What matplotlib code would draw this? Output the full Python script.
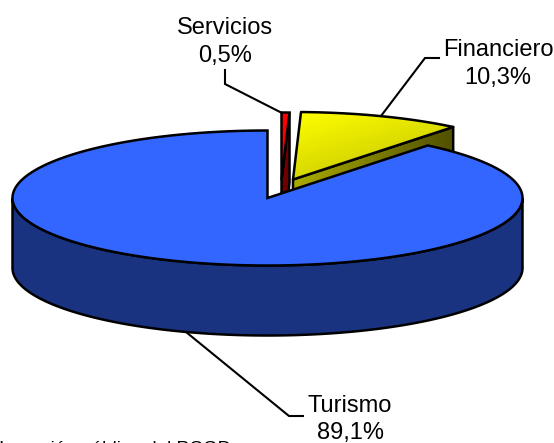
import numpy as np
import matplotlib
matplotlib.use("Agg")
import matplotlib.pyplot as plt
from matplotlib.patches import Polygon

categories = ["Turismo", "Financiero", "Servicios"]
shares = [89.1, 10.3, 0.5]
share_labels = ["89,1%", "10,3%", "0,5%"]
footer = "Inversión pública del PCGD"

W, H = 554, 443
RX, RY, DEPTH = 255, 67.5, 70
START = 90.0
CENTERS = {"Turismo": (267.5, 198), "Financiero": (293, 179.5), "Servicios": (281.5, 180)}
LW = 1.8

plt.rcParams["font.family"] = "Liberation Sans"
fig = plt.figure(figsize=(W/100, H/100), dpi=100)
ax = fig.add_axes([0, 0, 1, 1])
ax.set_xlim(0, W); ax.set_ylim(H, 0); ax.axis("off")

def rim(c, a0, a1, n=200):
    t = np.radians(np.linspace(a0, a1, n))
    return np.c_[c[0] + RX*np.cos(t), c[1] - RY*np.sin(t)]

def gradient(poly, c0, c1, z, vertical=0.5):
    """Fill a polygon with a diagonal linear gradient."""
    yy, xx = np.mgrid[0:1:64j, 0:1:64j]
    f = ((1-vertical)*xx + vertical*yy)[..., None]
    img = (1-f)*np.array(c0)/255 + f*np.array(c1)/255
    x0, y0 = poly.min(axis=0); x1, y1 = poly.max(axis=0)
    im = ax.imshow(img, extent=(x0, x1, y1, y0), zorder=z, aspect="auto", interpolation="bilinear")
    im.set_clip_path(Polygon(poly, closed=True, transform=ax.transData))
    ax.add_patch(Polygon(poly, closed=True, fill=False, ec="black", lw=LW, zorder=z+.1, joinstyle="round"))

total = sum(shares)
angles = {}
a = START
for name, s in zip(categories, shares):
    angles[name] = (a, a + s/total*360)
    a = angles[name][1]

# Servicios (pulled out, drawn behind)
c = CENTERS["Servicios"]
a0, a1 = angles["Servicios"]
r = rim(c, a0 % 360, a1 % 360, 10)
wall = np.array([c, r[0], r[0]+[0, DEPTH], np.array(c)+[0, DEPTH]])
ax.add_patch(Polygon(wall, closed=True, fc="#6E0000", ec="black", lw=LW, zorder=2))
ax.add_patch(Polygon(np.vstack([c, r]), closed=True, fc="#FF0000", ec="black", lw=LW, zorder=2.5))

# Financiero
c = CENTERS["Financiero"]
a0, a1 = angles["Financiero"]
r = rim(c, a0 % 360, a1 % 360, 60)
wall = np.array([c, r[0], r[0]+[0, DEPTH], np.array(c)+[0, DEPTH]])
gradient(wall, (170, 170, 0), (80, 80, 0), 3, vertical=0.0)
gradient(np.vstack([c, r]), (255, 255, 0), (190, 190, 0), 4, vertical=0.6)

# Turismo
c = CENTERS["Turismo"]
a0, a1 = angles["Turismo"]
low = rim(c, 180, 360, 300)
side = np.vstack([low, (low + [0, DEPTH])[::-1]])
ax.add_patch(Polygon(side, closed=True, fc="#1A3380", ec="black", lw=LW, zorder=6))
top = np.vstack([c, rim(c, a0, a1, 500)])
ax.add_patch(Polygon(top, closed=True, fc="#3366FF", ec="black", lw=LW, zorder=7))

# Leaders
leaders = {
    "Servicios": [(225, 70), (225, 84), (282, 113)],
    "Financiero": [(439, 58), (425, 58), (381, 116)],
    "Turismo": [(303, 416), (289, 416), (186, 332)],
}
for k, pts in leaders.items():
    p = np.array(pts)
    ax.plot(p[:, 0], p[:, 1], color="black", lw=1.5, zorder=1, solid_joinstyle="miter")

# Labels
label_pos = {"Servicios": (225, 27.5, 55.5), "Financiero": (498, 49.5, 77.5), "Turismo": (350, 405.5, 433)}
for name, lab in zip(categories, share_labels):
    x, y1, y2 = label_pos[name]
    ax.text(x, y1, name, ha="center", va="center", fontsize=17, color="black", zorder=9)
    ax.text(x, y2, lab, ha="center", va="center", fontsize=17, color="black", zorder=9)

ax.text(231, 454.5, footer, ha="right", va="baseline", fontsize=13.7, color="black", clip_on=True)

fig.savefig("out.png", dpi=100)
